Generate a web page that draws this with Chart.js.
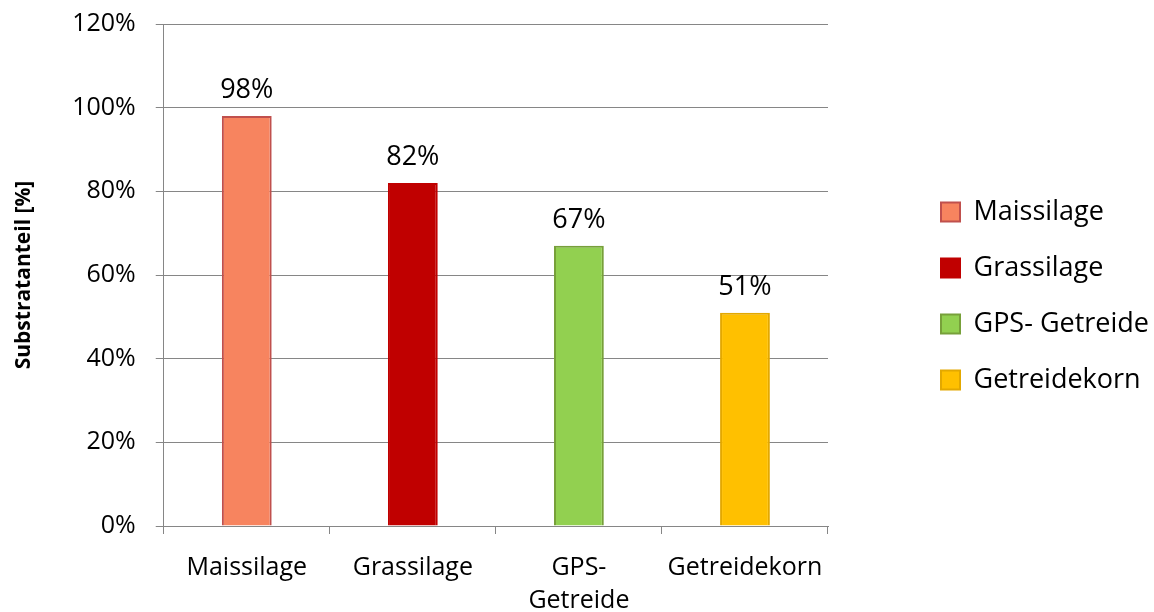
<!DOCTYPE html>
<html>
<head>
<meta charset="utf-8">
<script src="https://cdn.jsdelivr.net/npm/chart.js@4/dist/chart.umd.min.js"></script>
<style>
  html, body { margin: 0; padding: 0; background: #fff; }
  #wrap { width: 1154px; height: 612px; }
</style>
</head>
<body>
<div id="wrap"><canvas id="myChart" width="1154" height="612"></canvas></div>
<script>
const categories = ['Maissilage', 'Grassilage', 'GPS- Getreide', 'Getreidekorn']
const values = [98, 82, 67, 51]
const yTicks = [0, 20, 40, 60, 80, 100, 120]

const fills = ['#F7845F', '#C00000', '#92D050', '#FFC000']
const borders = ['#C0504D', '#C00000', '#77A03A', '#E3A800']
const font = 'Open Sans'

// draws the "98%" etc. above each bar
const valueLabels = {
  id: 'valueLabels',
  afterDatasetsDraw(chart) {
    const ctx = chart.ctx
    const meta = chart.getDatasetMeta(0)
    ctx.save()
    ctx.font = '27px "' + font + '"'
    ctx.fillStyle = '#000'
    ctx.textAlign = 'center'
    ctx.textBaseline = 'alphabetic'
    meta.data.forEach((bar, i) => {
      ctx.fillText(values[i] + '%', bar.x, bar.y - 18)
    })
    ctx.restore()
  }
}

// legend sits further right than chart.js puts it, so widen the box and shift the items
const LEGEND_W = 326
const LEGEND_SHIFT = 84
const LEGEND_DY = -10
const legendSpace = {
  id: 'legendSpace',
  afterInit(chart) {
    const lg = chart.legend
    const fit = lg.fit.bind(lg)
    lg.fit = function () { fit(); this.width = LEGEND_W }
    const draw = lg.draw.bind(lg)
    lg.draw = function () {
      const l = this.left, t = this.top, b = this.bottom
      this.left += LEGEND_SHIFT
      this.top += LEGEND_DY
      this.bottom += LEGEND_DY
      draw()
      this.left = l
      this.top = t
      this.bottom = b
    }
  }
}

function createChart() {
  const ctx = document.getElementById('myChart')
  new Chart(ctx, {
    type: 'bar',
    data: {
      labels: categories,
      datasets: [{
        data: values,
        backgroundColor: fills,
        borderColor: borders,
        borderWidth: 2,
        categoryPercentage: 1,
        barPercentage: 0.3
      }]
    },
    options: {
      responsive: false,
      animation: false,
      layout: { padding: { top: 0, right: 0, left: 5, bottom: 0 } },
      plugins: {
        tooltip: { enabled: false },
        legend: {
          position: 'right',
          labels: {
            font: { family: font, size: 27 },
            color: '#000',
            boxWidth: 19,
            boxHeight: 19,
            padding: 29,
            generateLabels: (chart) => categories.map((c, i) => ({
              text: c,
              fillStyle: fills[i],
              strokeStyle: borders[i],
              lineWidth: 2,
              index: i
            }))
          }
        }
      },
      scales: {
        x: {
          afterFit: (scale) => { scale.height = 86 },
          grid: { display: true, drawOnChartArea: false, tickLength: 8, color: '#868686' },
          border: { color: '#868686' },
          ticks: {
            font: { family: font, size: 25, lineHeight: 1.3 },
            color: '#000',
            padding: 18,
            maxRotation: 0,
            callback: function (v) {
              const l = categories[v]
              return l.includes('- ') ? l.split(' ') : l
            }
          }
        },
        y: {
          min: 0,
          max: 120,
          afterBuildTicks: (axis) => { axis.ticks = yTicks.map(v => ({ value: v })) },
          afterFit: (scale) => { scale.paddingTop = 24 },
          grid: { color: '#868686', tickLength: 8 },
          border: { color: '#868686' },
          ticks: {
            font: { family: font, size: 25 },
            color: '#000',
            padding: 20,
            callback: (v) => v + '%'
          },
          title: {
            display: true,
            text: 'Substratanteil [%]',
            font: { family: font, size: 21, weight: 'bold' },
            color: '#000',
            padding: { top: 6, bottom: 16 }
          }
        }
      }
    },
    plugins: [valueLabels, legendSpace]
  })
}

createChart()
</script>
</body>
</html>
